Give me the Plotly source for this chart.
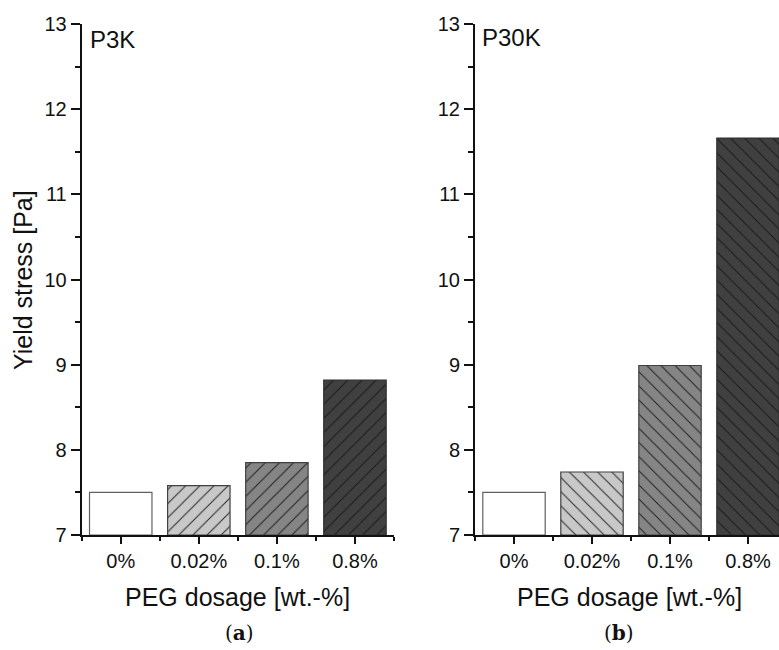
import plotly.graph_objects as go

categories = ["0%", "0.02%", "0.1%", "0.8%"]
p3k_values = [7.50, 7.58, 7.85, 8.82]
p30k_values = [7.50, 7.74, 8.99, 11.66]
bar_colors = ["#ffffff", "#c8c8c8", "#858585", "#404040"]
line_colors = ["#606060", "#404040", "#404040", "#303030"]
y_ticks = [7, 8, 9, 10, 11, 12, 13]
panel_names = ["P3K", "P30K"]
panel_letters = ["a", "b"]

FONT = "Liberation Sans, Arial, sans-serif"
xpos = list(range(len(categories)))

fig = go.Figure()

def add_bars(values, xa, ya, hatch):
    for i, (xp, v) in enumerate(zip(xpos, values)):
        shape = "" if i == 0 else hatch
        fig.add_trace(go.Bar(
            x=[xp], y=[v - 7], base=7,
            width=0.8,
            marker=dict(
                color=bar_colors[i],
                line=dict(color=line_colors[i], width=1.2),
                pattern=dict(shape=shape, fillmode="overlay",
                             fgcolor="#151515", fgopacity=0.9,
                             size=10, solidity=0.1),
            ),
            xaxis=xa, yaxis=ya, showlegend=False, hoverinfo="skip",
        ))

add_bars(p3k_values, "x", "y", "/")
add_bars(p30k_values, "x2", "y2", "\\")

W, H = 779, 650
y_dom = [1 - 535 / H, 1 - 24 / H]

xcommon = dict(
    tickvals=xpos, ticktext=categories, ticks="outside", ticklen=7, tickwidth=1.5,
    tickcolor="#111", showline=True, linewidth=2, linecolor="#111",
    showgrid=False, zeroline=False,
    tickfont=dict(family=FONT, size=20, color="#111"),
    minor=dict(tickvals=[-0.5, 0.5, 1.5, 2.5, 3.5], ticks="outside", ticklen=4,
               tickwidth=1.5, tickcolor="#111", showgrid=False),
    automargin=False, fixedrange=True,
)
ycommon = dict(
    range=[7, 13], tickvals=y_ticks, ticks="outside", ticklen=9, tickwidth=1.5,
    tickcolor="#111", showline=True, linewidth=2, linecolor="#111",
    showgrid=False, zeroline=False,
    tickfont=dict(family=FONT, size=20, color="#111"),
    minor=dict(dtick=0.5, tick0=7, ticks="outside", ticklen=5, tickwidth=1.5,
               tickcolor="#111", showgrid=False),
    automargin=False, fixedrange=True,
)

fig.update_layout(
    width=W, height=H,
    margin=dict(l=0, r=0, t=0, b=0),
    paper_bgcolor="white", plot_bgcolor="white",
    barmode="overlay",
    xaxis=dict(domain=[81.7 / W, 394 / W], range=[-0.5, 3.5], anchor="y", **xcommon),
    yaxis=dict(domain=y_dom, anchor="x", **ycommon),
    xaxis2=dict(domain=[475 / W, 1.0], range=[-0.5, -0.5 + (W - 475) / 78.0], anchor="y2", **xcommon),
    yaxis2=dict(domain=y_dom, anchor="x2", **ycommon),
)

ann = []
ann.append(dict(text="Yield stress [Pa]", x=23 / W, y=1 - 280 / H, xref="paper", yref="paper",
                textangle=-90, showarrow=False, xanchor="center", yanchor="middle",
                font=dict(family=FONT, size=25, color="#111")))
for cx in [237.5 / W, 629 / W]:
    ann.append(dict(text="PEG dosage [wt.-%]", x=cx, y=1 - 597 / H, xref="paper", yref="paper",
                    showarrow=False, xanchor="center", yanchor="middle",
                    font=dict(family=FONT, size=25, color="#111")))
for name, px, py in zip(panel_names, [88, 480], [39, 38]):
    ann.append(dict(text=name, x=px / W, y=1 - py / H, xref="paper", yref="paper",
                    showarrow=False, xanchor="left", yanchor="middle",
                    font=dict(family=FONT, size=24, color="#111")))
for letter, cx in zip(panel_letters, [239, 619]):
    ann.append(dict(text="(<b>%s</b>)" % letter, x=cx / W, y=1 - 633 / H, xref="paper", yref="paper",
                    showarrow=False, xanchor="center", yanchor="middle",
                    font=dict(family="DejaVu Serif, Liberation Serif, serif", size=20, color="#111")))
fig.update_layout(annotations=ann)

fig.write_html("out.html")
